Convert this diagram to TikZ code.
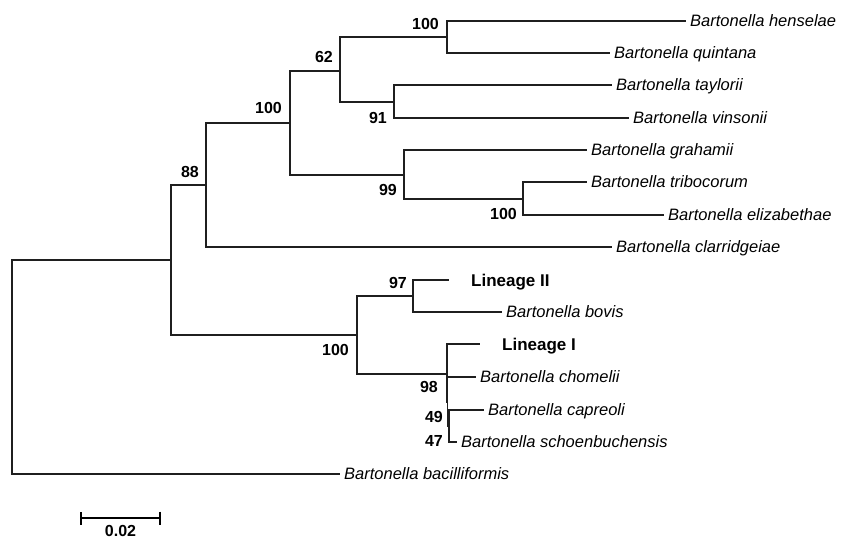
\documentclass[tikz,border=0pt]{standalone}
\usepackage{fontspec}
\setmainfont{Liberation Sans}
\usetikzlibrary{arrows.meta,positioning}

\begin{document}
\begin{tikzpicture}[
  x=1pt, y=-1pt,
  branch/.style={line width=1.2pt, draw=black!88},
  leaf/.style={anchor=west, font=\itshape\fontsize{16.5}{18}\selectfont, inner xsep=4pt, inner ysep=0pt, text height=11.8pt, text depth=0pt},
  lineage/.style={leaf, font=\bfseries\fontsize{17}{19}\selectfont, inner xsep=22pt, text height=12.2pt},
  boot/.style={font=\bfseries\fontsize{16}{18}\selectfont, inner sep=0pt}
]
\useasboundingbox (0,0) rectangle (844,540);

% internal nodes of the tree
\coordinate (root) at (12,367);
\coordinate (inner) at (171,260);
\coordinate (n88) at (206,185);
\coordinate (n100a) at (290,123);
\coordinate (n62) at (340,71);
\coordinate (n100b) at (447,37);
\coordinate (n91) at (394,102);
\coordinate (n99) at (404,175);
\coordinate (n100c) at (523,199);
\coordinate (n100d) at (357,335);
\coordinate (n97) at (413,296);
\coordinate (n98) at (447,374);
\coordinate (nB) at (447.5,402);
\coordinate (n49) at (449,426);

% leaves
\node[leaf] (hens) at (686,21) {Bartonella henselae};
\node[leaf] (quin) at (610,53) {Bartonella quintana};
\node[leaf] (tayl) at (612,85) {Bartonella taylorii};
\node[leaf] (vins) at (629,118) {Bartonella vinsonii};
\node[leaf] (grah) at (587,150) {Bartonella grahamii};
\node[leaf] (trib) at (587,182) {Bartonella tribocorum};
\node[leaf] (eliz) at (664,215) {Bartonella elizabethae};
\node[leaf] (clar) at (612,247) {Bartonella clarridgeiae};
\node[lineage] (lin2) at (449,280) {Lineage II};
\node[leaf] (bovi) at (502,312) {Bartonella bovis};
\node[lineage] (lin1) at (480,344) {Lineage I};
\node[leaf] (chom) at (476,377) {Bartonella chomelii};
\node[leaf] (capr) at (484,410) {Bartonella capreoli};
\node[leaf] (scho) at (457,442) {Bartonella schoenbuchensis};
\node[leaf] (baci) at (340,474) {Bartonella bacilliformis};

% branches
\foreach \p/\c in {root/inner, root/baci, inner/n88, inner/n100d,
    n88/n100a, n88/clar, n100a/n62, n100a/n99, n62/n100b, n62/n91,
    n100b/hens, n100b/quin, n91/tayl, n91/vins, n99/grah, n99/n100c,
    n100c/trib, n100c/eliz, n100d/n97, n100d/n98, n97/lin2, n97/bovi,
    n98/lin1, n98/nB, nB/chom, nB/n49, n49/capr, n49/scho}
  \draw[branch] (\p) |- (\c);

% bootstrap values
\node[boot, above left=7pt and 8pt of n100b] (b100b) {100};
\node[boot, above left=8pt and 7pt of n62] (b62) {62};
\node[boot, above left=9pt and 8pt of n100a] (b100a) {100};
\node[boot, above left=7pt and 7pt of n88] (b88) {88};
\node[boot, below left=10pt and 7pt of n91] (b91) {91};
\node[boot, below left=9pt and 7pt of n99] (b99) {99};
\node[boot, below left=9pt and 6pt of n100c] (b100c) {100};
\node[boot, above left=7pt and 6pt of n97] (b97) {97};
\node[boot, below left=9pt and 8pt of n100d] (b100d) {100};
\node[boot, below left=7pt and 9pt of n98] (b98) {98};
\node[boot, above left=3pt and 6pt of n49] (b49) {49};
\node[boot, below left=9pt and 6pt of n49] (b47) {47};

% scale bar
\coordinate (sbl) at (80,518);
\coordinate (sbr) at (161,518);
\coordinate (sbm) at (120.5,518);
\draw[line width=1.6pt, {Bar[width=13pt]}-{Bar[width=13pt]}] (sbl) -- (sbr);
\node[boot, below=7pt of sbm] (sclab) {0.02};

\end{tikzpicture}
\end{document}
